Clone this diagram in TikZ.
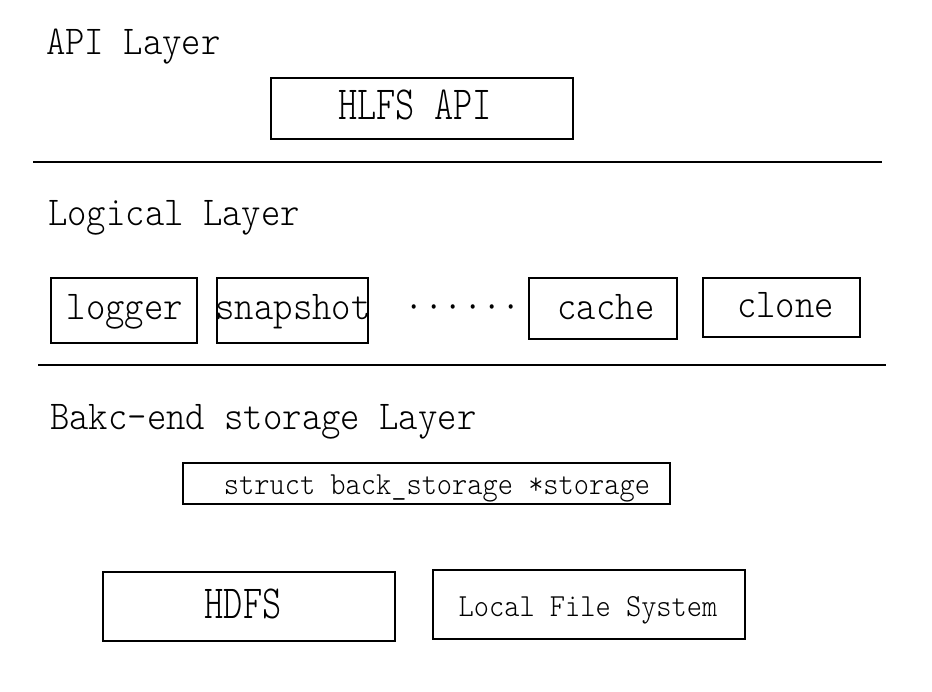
\documentclass[tikz,border=0pt]{standalone}
\usepackage{fontspec}
\newfontfamily\simf[FakeStretch=0.9]{lmmonolt10-regular.otf}
\newfontfamily\simc[FakeStretch=0.77]{lmmonolt10-regular.otf}
\tikzset{
  boxn/.style={draw=black, line width=1.8pt, minimum width=#1, inner sep=0pt},
  lbl/.style={anchor=base west, inner sep=0pt, font=\simf\fontsize{41}{41}\selectfont},
  btxt/.style={anchor=base, inner sep=0pt, font=\simf\fontsize{41}{41}\selectfont},
  stxt/.style={anchor=base, inner sep=0pt, font=\simf\fontsize{32.2}{32}\selectfont},
  ctxt/.style={anchor=base, inner sep=0pt, font=\simc\fontsize{47.5}{48}\selectfont},
  sep/.style={line width=1.8pt}
}
\begin{document}
\begin{tikzpicture}[x=1pt,y=-1pt]
\useasboundingbox (0,0) rectangle (932,692);
% labels
\node[lbl] (lapi) at (46,55) {API Layer};
\node[lbl] (llog) at (48,226) {Logical Layer};
\node[lbl] (lback) at (50,430) {Bakc-end storage Layer};
% separators
\coordinate (s1a) at (33,162); \coordinate (s1b) at (882,162);
\coordinate (s2a) at (38,365); \coordinate (s2b) at (886,365);
\draw[sep] (s1a) -- (s1b);
\draw[sep] (s2a) -- (s2b);
% boxes
\node[boxn=302pt, minimum height=61pt] (api) at (422,108.5) {};
\node[boxn=146pt, minimum height=65pt] (logger) at (124,310.5) {};
\node[boxn=151pt, minimum height=65pt] (snap) at (292.5,310.5) {};
\node[boxn=148pt, minimum height=61pt] (cache) at (603,308.5) {};
\node[boxn=157pt, minimum height=59pt] (clone) at (781.5,307.5) {};
\node[boxn=487pt, minimum height=41pt] (struct) at (426.5,483.5) {};
\node[boxn=292pt, minimum height=69pt] (hdfs) at (249,606.5) {};
\node[boxn=312pt, minimum height=69pt] (lfs) at (589,604.5) {};
% texts
\node[ctxt] (tapi) at (415,120) {HLFS API};
\node[btxt] (tlogger) at (125,320) {logger};
\node[btxt] (tsnap) at (293,320) {snapshot};
\node[btxt] (tdots) at (463,320) {······};
\node[btxt] (tcache) at (606,320) {cache};
\node[btxt] (tclone) at (785.5,318) {clone};
\node[stxt] (tstruct) at (437,494) {struct back\_storage *storage};
\node[ctxt] (thdfs) at (243,618) {HDFS};
\node[stxt] (tlfs) at (588,616) {Local File System};
\end{tikzpicture}
\end{document}
